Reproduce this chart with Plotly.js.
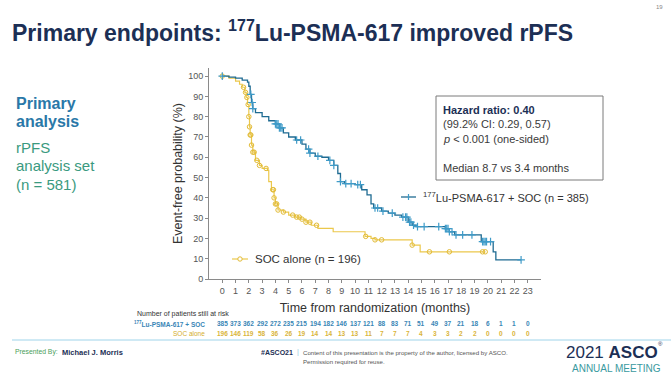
<!DOCTYPE html>
<html><head><meta charset="utf-8">
<script src="https://cdn.plot.ly/plotly-3.0.1.min.js"></script>
<style>html,body{margin:0;padding:0;background:#fff}#c{width:671px;height:376px}</style>
</head><body><div id="c"></div>
<script>
// Kaplan-Meier steps (months, % event-free)
const luT = [0,0.5,1.0,1.5,1.9,2.0,2.1,2.2,2.3,2.5,3.0,3.5,4.0,4.3,4.6,5.0,5.5,6.0,6.3,6.6,7.0,7.5,8.0,8.4,8.7,8.9,9.2,10.0,10.5,10.9,11.2,11.4,12.0,12.5,13.0,13.5,14.0,14.3,14.6,16.8,17.1,17.5,19.5,20.4,20.6,22.5];
const luS = [100,99.5,99,98,97,95,91,87,84,82,80,78,76.5,74.5,72,70,68.5,66.5,64,62,60.5,60,58.5,56,52,48,47,46.5,44,41.5,37,35,33.5,32.5,31.5,30.5,28,26.5,25.8,24.8,23.3,21.7,18.4,13.4,9.4,9.4];
const socT = [0,0.5,1.0,1.3,1.5,1.7,1.8,1.9,2.0,2.05,2.1,2.2,2.3,2.5,2.8,3.0,3.4,3.5,3.7,3.9,4.0,4.2,4.6,5.0,5.5,5.9,6.3,6.7,7.2,8.35,10.75,11.2,11.5,14.3,14.9,19.8];
const socS = [100,99,97.5,96,94.5,92,89.5,86,80,75,71,66,62.5,58.5,56,54.5,53.5,48,44,40,37,34,33,31.5,30.5,29.5,28,26.5,25,23.3,21,20,19.3,16.7,13.4,13.4];
// Censoring times
const luCensor = [0,2.15,2.25,2.3,4.0,4.1,4.2,4.3,4.4,4.5,5.6,5.9,6.5,6.6,7.2,8.1,8.4,8.9,9.3,9.7,10.2,10.4,11.5,11.7,12.1,12.8,13.6,13.8,13.9,14.1,14.2,14.4,14.7,15.2,16.3,16.8,16.9,17.0,17.1,17.3,17.6,18.1,18.8,19.6,19.7,19.8,19.9,20.2,22.5];
const socCensor = [0,1.6,1.75,1.85,1.95,2.0,2.05,2.1,2.15,2.2,2.3,2.4,2.6,2.8,3.3,3.8,3.85,3.9,4.0,4.1,4.2,4.6,5.3,5.6,5.8,6.0,6.3,6.6,7.1,10.8,11.5,12.0,14.3,15.6,17.1,19.6,19.8];
// Risk table
const months = [0,1,2,3,4,5,6,7,8,9,10,11,12,13,14,15,16,17,18,19,20,21,22,23];
const luRisk = [385,373,362,292,272,235,215,194,182,146,137,121,88,83,71,51,49,37,21,18,6,1,1,0];
const socRisk = [196,146,119,58,36,26,19,14,14,13,13,11,7,7,7,4,3,3,2,2,0,0,0,0];
const yTicks = [0,10,20,30,40,50,60,70,80,90,100];

function stepAt(T,S,t){let v=S[0];for(let i=0;i<T.length;i++){if(T[i]<=t+1e-9)v=S[i];}return v;}

const L=209,R=541,TOP=68,BOT=279;
const X=px=>(px-L)/(R-L), Y=py=>(BOT-py)/(BOT-TOP);

const LU='#1f6b92', LUM='#3f9bc8', SOC='#ebc84c', SOCM='#e2bb36';
const FF='Liberation Sans, Arial, sans-serif';
const traces=[
 {x:socT,y:socS,mode:'lines',line:{shape:'hv',color:SOC,width:1.2},showlegend:false,hoverinfo:'skip'},
 {x:socCensor,y:socCensor.map(t=>stepAt(socT,socS,t)),mode:'markers',marker:{symbol:'circle-open',size:4.5,color:SOCM,line:{width:1}},showlegend:false},
 {x:luT,y:luS,mode:'lines',line:{shape:'hv',color:LU,width:1.3},showlegend:false,hoverinfo:'skip'},
 {x:luCensor,y:luCensor.map(t=>stepAt(luT,luS,t)),mode:'markers',marker:{symbol:'cross-thin-open',size:5.5,color:LUM,line:{width:1.2,color:LUM}},showlegend:false}
];

const ann=[];
const A=(o)=>ann.push(Object.assign({xref:'paper',yref:'paper',showarrow:false,xanchor:'left',yanchor:'middle'},o));
// left side text
A({x:X(14),y:Y(103),text:'<b>Primary</b>',font:{family:FF,size:16,color:'#2a78a8'}});
A({x:X(14),y:Y(121),text:'<b>analysis</b>',font:{family:FF,size:16,color:'#2a78a8'}});
A({x:X(14),y:Y(147),text:'rPFS',font:{family:FF,size:15,color:'#3a9a80'}});
A({x:X(14),y:Y(165),text:'analysis set',font:{family:FF,size:15,color:'#3a9a80'}});
A({x:X(14),y:Y(184),text:'(n = 581)',font:{family:FF,size:15,color:'#3a9a80'}});
// hazard box text
const hf={family:FF,size:11,color:'#3a3a3a'};
A({x:X(441),y:Y(110),text:'<b>Hazard ratio: 0.40</b>',font:Object.assign({},hf,{color:'#1c2f55'})});
A({x:X(441),y:Y(124),text:'(99.2% CI: 0.29, 0.57)',font:hf});
A({x:X(441),y:Y(139),text:'<i>p</i> < 0.001 (one-sided)',font:hf});
A({x:X(441),y:Y(168),text:'Median 8.7 vs 3.4 months',font:hf});
// curve labels (legend)
A({x:X(421),y:Y(197),text:'<sup>177</sup>Lu-PSMA-617 + SOC (n = 385)',font:{family:FF,size:11,color:'#333'}});
A({x:X(253),y:Y(259),text:'SOC alone (n = 196)',font:{family:FF,size:11.5,color:'#333'}});
// risk table
A({x:X(135),y:Y(314),text:'Number of patients still at risk',font:{family:FF,size:7,color:'#333'}});
A({x:X(207),y:Y(323.5),xanchor:'right',text:'<b><sup>177</sup>Lu-PSMA-617 + SOC</b>',font:{family:FF,size:6.5,color:'#3a86b6'}});
A({x:X(207),y:Y(333),xanchor:'right',text:'SOC alone',font:{family:FF,size:6.5,color:'#d4ad2c'}});
months.forEach((m,i)=>{
  ann.push({xref:'x',yref:'paper',x:m,y:Y(323.5),showarrow:false,xanchor:'center',yanchor:'middle',text:'<b>'+luRisk[i]+'</b>',font:{family:FF,size:6.5,color:'#3a86b6'}});
  ann.push({xref:'x',yref:'paper',x:m,y:Y(333),showarrow:false,xanchor:'center',yanchor:'middle',text:'<b>'+socRisk[i]+'</b>',font:{family:FF,size:6.5,color:'#d9b43a'}});
});
// footer
A({x:X(13),y:Y(352),text:'Presented By:',font:{family:FF,size:6.8,color:'#4aa05a'}});
A({x:X(60),y:Y(352),text:'<b>Michael J. Morris</b>',font:{family:FF,size:7.5,color:'#1c2f55'}});
A({x:X(259),y:Y(352),text:'<b>#ASCO21</b>',font:{family:FF,size:7,color:'#1c2f55'}});
A({x:X(295),y:Y(352),text:'|',font:{family:FF,size:7,color:'#8cc8e0'}});
A({x:X(301),y:Y(352),text:'Content of this presentation is the property of the author, licensed by ASCO.',font:{family:FF,size:6.1,color:'#555'}});
A({x:X(301),y:Y(361),text:'Permission required for reuse.',font:{family:FF,size:6.1,color:'#555'}});
A({x:X(564),y:Y(352),text:'2021 <b>ASCO</b>',font:{family:FF,size:17,color:'#1c2f55'}});
A({x:X(656),y:Y(344),text:'®',font:{family:FF,size:6,color:'#1c2f55'}});
A({x:X(570),y:Y(368),text:'ANNUAL MEETING',font:{family:FF,size:10,color:'#3a9aa0'}});
A({x:X(665),y:Y(7),xanchor:'right',text:'19',font:{family:FF,size:6,color:'#888'}});

const layout={
 width:671,height:376,paper_bgcolor:'#fff',plot_bgcolor:'#fff',
 margin:{l:L,r:671-R,t:TOP,b:376-BOT,pad:0},
 title:{text:'<b>Primary endpoints: <sup>177</sup>Lu-PSMA-617 improved rPFS</b>',xref:'container',yref:'container',x:12/671,xanchor:'left',y:1-33/376,yanchor:'middle',font:{family:FF,size:23,color:'#1c2f55'}},
 xaxis:{range:[-1,24],tickvals:months,ticktext:months.map(String),showline:true,linecolor:'#8a8a8a',linewidth:1,ticks:'outside',ticklen:3,tickcolor:'#8a8a8a',showgrid:false,zeroline:false,tickfont:{family:FF,size:9,color:'#555'},
   title:{text:'Time from randomization (months)',font:{family:FF,size:12.5,color:'#333'},standoff:8}},
 yaxis:{range:[0,104],tickvals:yTicks,showline:true,linecolor:'#8a8a8a',linewidth:1,ticks:'outside',ticklen:3,tickcolor:'#8a8a8a',showgrid:false,zeroline:false,tickfont:{family:FF,size:9,color:'#555'},
   title:{text:'Event-free probability (%)',font:{family:FF,size:12.5,color:'#333'},standoff:2}},
 shapes:[
  {type:'rect',xref:'paper',yref:'paper',x0:X(436),x1:X(603),y0:Y(96),y1:Y(180),line:{color:'#7a7a7a',width:1}},
  {type:'line',xref:'paper',yref:'paper',x0:X(12),x1:X(671),y0:Y(340),y1:Y(340),line:{color:'#9fd4ea',width:1}},
  // legend swatches
  {type:'line',xref:'paper',yref:'paper',x0:X(401),x1:X(416),y0:Y(197),y1:Y(197),line:{color:LU,width:1.3}},
  {type:'line',xref:'paper',yref:'paper',x0:X(408.5),x1:X(408.5),y0:Y(194),y1:Y(200),line:{color:LUM,width:1.2}},
  {type:'line',xref:'paper',yref:'paper',x0:X(232),x1:X(248),y0:Y(259),y1:Y(259),line:{color:SOC,width:1.2}},
  {type:'circle',xref:'paper',yref:'paper',x0:X(237.8),x1:X(242.2),y0:Y(256.8),y1:Y(261.2),line:{color:SOCM,width:1},fillcolor:'#fff'}
 ],
 annotations:ann,
 showlegend:false
};
Plotly.newPlot('c',traces,layout,{displayModeBar:false,staticPlot:true});
</script></body></html>
